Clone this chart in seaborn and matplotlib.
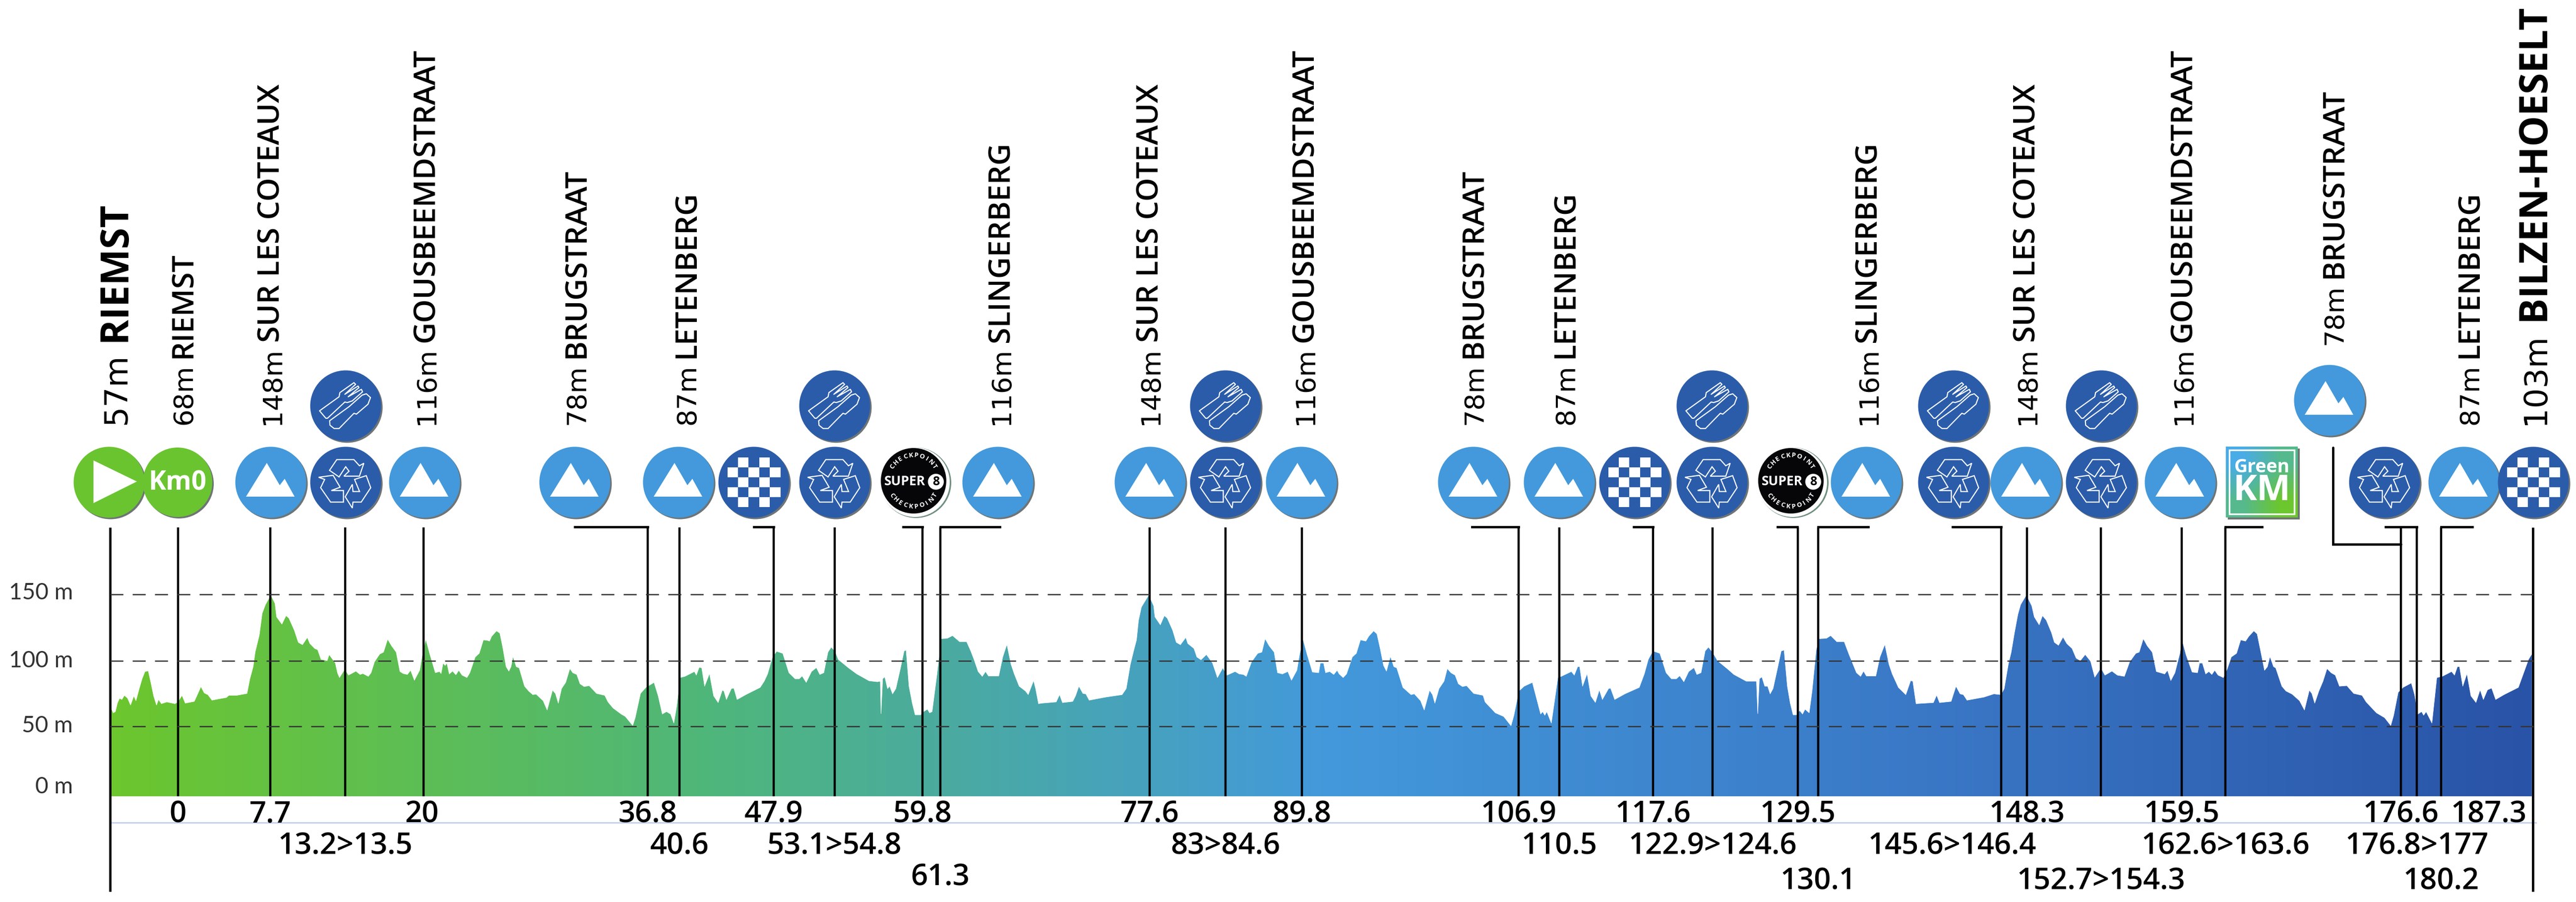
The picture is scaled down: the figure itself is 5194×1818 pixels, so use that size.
import numpy as np
import pandas as pd
import seaborn as sns
import matplotlib
matplotlib.use("Agg")
import matplotlib.pyplot as plt
from matplotlib.patches import Circle, Polygon, Rectangle

# elevation profile, (km, metres)
leg_1 = [(-5.31,65.6),(-5.15,62.0),(-4.98,62.9),(-4.82,69.2),(-4.65,72.8),(-4.46,71.9),(-4.26,75.0),(-4.00,72.8),(-3.77,67.8),(-3.51,74.6),(-3.34,71.0),(-3.08,80.0),(-2.85,87.3),(-2.62,92.7),(-2.36,93.2),(-2.13,83.6),(-1.93,74.6),(-1.70,67.8),(-1.54,71.9),(-1.31,68.8),(-0.88,70.1),(-0.23,68.8),(0,70.1),(0.33,75.0),(0.59,69.2),(1.31,70.5),(1.51,74.6),(1.84,81.5),(2.10,76.8),(2.39,75.5),(2.72,71.4),(3.21,72.3),(3.87,73.4),(4.06,75.0),(4.69,75.0),(5.51,76.4),(5.74,87.3),(6.00,96.3),(6.16,107.1),(6.49,119.8),(6.72,136.0),(6.98,142.4),(7.41,149.6),(7.74,143.3),(7.87,133.3),(8.29,127.9),(8.62,134.2),(8.85,132.4),(9.28,123.4),(9.60,114.4),(9.93,112.6),(10.32,118.0),(10.52,113.5),(10.91,109.8),(11.14,108.9),(11.41,101.7),(11.90,100.8),(12.06,105.3),(12.55,99.0),(12.72,91.8),(12.88,88.2),(13.31,94.5),(13.60,90.0),(14.19,93.0),(14.52,90.5),(14.75,91.2),(15.18,89.1),(15.40,91.8),(15.67,99.9),(16.09,105.7),(16.39,107.1),(16.72,116.7),(17.04,111.7),(17.40,107.1),(17.70,92.7),(17.96,91.2),(18.29,90.5),(18.55,93.6),(18.85,86.2),(19.27,93.6),(19.50,106.2),(19.76,116.7),(20.09,105.3),(20.52,91.8),(20.85,92.7),(20.98,91.2),(21.14,99.0),(21.30,97.2),(21.44,99.0),(21.63,90.9),(21.89,93.0),(22.16,90.3),(22.39,93.6),(22.65,90.0),(23.04,88.2),(23.27,91.8),(23.70,103.5),(24.02,106.2),(24.35,116.2),(24.68,115.8),(24.84,115.3),(25.01,118.9),(25.40,122.9),(25.66,121.2),(25.89,110.8),(26.16,96.3),(26.38,93.0),(26.55,96.3),(26.71,103.9),(26.97,96.3),(27.20,95.4),(27.63,81.8),(27.96,78.2),(28.29,75.5),(28.55,75.9),(29.11,71.0),(29.43,64.1),(29.86,78.8),(30.09,76.4),(30.32,69.2),(30.58,80.0),(30.91,84.6),(31.24,94.9),(31.47,91.8),(31.79,90.5),(32.05,83.6),(32.38,81.5),(32.78,82.2),(33.37,76.4),(34.02,75.0),(34.28,70.1),(34.68,65.6),(35.33,61.1),(35.66,59.3),(36.25,52.6),(36.45,58.4),(36.87,76.4),(37.30,80.9),(37.95,84.6),(38.28,74.6),(38.61,61.1),(38.94,62.9),(39.27,61.1),(39.53,54.4),(39.76,67.4),(40.02,88.2),(40.41,89.1),(41.17,92.7)]
leg_2 = [(41.32,90.0),(41.55,95.9),(41.75,95.4),(41.98,81.8),(42.37,91.2),(42.70,74.6),(43.06,69.6),(43.39,78.8),(43.52,78.2),(43.72,71.9),(44.11,80.0),(44.31,80.4),(44.57,71.9),(45.26,75.5),(46.41,80.9),(46.73,85.5),(47.00,90.9),(47.39,103.5),(47.72,107.7),(48.21,106.2),(48.70,91.8),(49.19,87.3),(49.52,87.3),(49.75,89.4),(50.08,84.6),(50.50,92.7),(50.89,95.6),(51.16,90.5),(51.48,91.8),(51.81,107.1),(52.07,110.8),(52.37,108.0),(52.63,101.7),(53.45,95.4),(54.11,90.9),(55.09,85.8),(55.75,85.1),(55.98,85.5),(56.04,61.4),(56.17,87.3),(56.34,88.7),(56.56,80.0),(56.73,81.8),(56.96,76.1),(57.22,80.0),(57.55,93.6),(57.88,108.0),(58.04,108.6),(58.27,81.8),(58.53,69.2),(58.76,60.5),(59.19,60.5),(59.42,62.9),(59.74,64.7),(59.91,62.0),(60.11,62.9),(60.50,90.9),(60.83,117.1),(61.32,117.4),(61.74,119.4),(62.30,114.9),(62.86,114.9),(63.19,108.0),(63.45,101.7),(63.78,92.7),(64.11,89.1),(64.37,92.7),(64.60,89.4),(65.42,89.4),(65.74,103.5),(66.07,112.9),(66.40,98.1),(66.66,90.9),(67.05,81.8),(67.55,78.2),(67.77,75.5),(68.20,86.0),(68.36,80.0),(68.59,68.8),(68.86,69.2),(70.00,70.1),(70.27,75.5),(70.50,69.6),(71.32,70.5),(71.54,74.6),(71.81,81.8),(72.13,76.4),(72.36,76.1),(72.63,71.4),(73.94,73.7),(75.25,75.5),(75.58,80.0),(75.91,98.1),(76.17,108.0),(76.40,116.2),(76.56,130.6),(76.79,140.6),(77.38,149.6),(77.77,141.5),(77.87,133.3),(78.30,127.4),(78.62,134.2),(78.85,132.4),(79.28,123.4),(79.57,114.4),(79.90,112.6),(80.33,118.0),(80.49,113.5),(80.98,109.8),(81.21,103.5),(81.54,101.4),(81.97,105.3),(82.46,99.0),(82.85,88.2),(83.28,95.4),(83.61,90.0),(84.26,92.7),(84.59,90.9),(84.92,90.5),(85.15,89.1),(85.57,99.9),(86.06,106.2),(86.39,107.1),(86.65,117.1),(86.98,111.7),(87.37,107.1),(87.64,91.8),(88.03,90.9),(88.46,92.7),(88.75,86.2),(89.18,93.6),(89.41,106.2),(89.67,116.7),(90.00,105.3),(90.42,92.3),(90.92,91.8),(91.05,99.0),(91.31,99.0),(91.47,91.8),(91.80,92.7),(92.12,90.5),(92.39,93.6),(92.55,90.9)]
leg_3 = [(92.87,88.2),(93.14,90.9),(93.60,103.5),(93.92,106.2),(94.25,116.2),(94.68,115.3),(94.91,118.9),(95.30,122.9),(95.56,120.7),(95.82,109.8),(96.09,97.2),(96.32,93.0),(96.64,103.9),(96.91,96.3),(97.14,95.4),(97.63,80.9),(98.28,75.5),(98.54,76.1),(99.04,71.0),(99.33,64.1),(99.76,78.8),(99.99,75.5),(100.18,69.2),(100.51,80.0),(100.91,85.5),(101.17,94.9),(101.46,91.8),(101.79,90.0),(102.05,83.6),(102.38,81.5),(102.71,82.2),(103.27,76.4),(104.02,75.0),(104.18,70.1),(105.00,62.0),(105.66,59.3),(106.25,52.4),(106.48,60.2),(106.87,78.2),(107.30,81.8),(107.95,84.6),(108.28,72.8),(108.61,61.1),(108.77,62.9),(108.94,60.2),(109.10,62.9),(109.46,54.4),(109.69,69.2),(109.98,88.2),(110.25,89.1),(111.06,92.7),(111.29,90.0),(111.56,96.3),(111.72,96.3),(111.95,81.8),(112.31,91.2),(112.61,74.6),(112.97,69.7),(113.29,79.1),(113.53,71.9),(114.02,80.0),(114.18,80.4),(114.51,71.9),(115.32,76.1),(116.47,80.9),(116.87,90.9),(117.19,101.7),(117.55,108.0),(118.11,106.2),(118.61,91.8),(119.03,87.3),(119.43,87.3),(119.69,89.6),(120.02,85.1),(120.41,92.7),(120.83,95.6),(121.06,90.5),(121.39,91.8),(121.72,108.0),(121.98,110.8),(122.31,107.1),(122.70,100.8),(123.52,94.5),(124.01,90.5),(125.00,85.5),(125.81,85.5),(125.91,61.4),(126.04,87.3),(126.24,88.7),(126.47,81.8),(126.70,81.8),(126.90,76.1),(127.13,80.0),(127.45,93.6),(127.78,108.0),(128.01,108.6),(128.27,81.8),(128.50,69.2),(128.73,60.5),(128.99,60.5),(129.25,63.8),(129.48,61.1),(129.68,64.7),(130.01,62.0),(130.24,78.2),(130.57,108.9),(130.80,117.1),(131.39,117.4),(131.72,119.4),(132.21,114.9),(132.80,114.9),(133.19,105.3),(133.78,91.8),(134.11,89.1),(134.34,93.0),(134.57,89.4),(135.32,89.4),(135.65,103.5),(136.04,112.9),(136.37,98.1),(136.63,90.9),(137.12,80.9),(137.71,75.5),(138.10,86.0),(138.27,85.5),(138.53,68.8),(139.91,69.6),(140.17,75.2),(140.40,69.6),(141.32,70.5),(141.71,81.8),(142.04,76.1),(142.30,75.5),(142.59,71.4),(143.94,73.7)]
leg_4 = [(144.73,76.1),(145.29,75.5),(145.55,80.0),(145.88,98.1),(146.11,107.1),(146.37,121.6),(146.64,135.1),(146.86,142.4),(147.32,149.6),(147.75,141.5),(147.95,133.3),(148.34,127.4),(148.60,134.2),(148.90,131.0),(149.32,121.6),(149.55,114.4),(149.88,112.2),(150.24,118.3),(150.54,113.5),(150.96,109.8),(151.29,102.6),(151.62,100.8),(152.01,105.3),(152.44,100.3),(152.77,88.5),(153.26,95.4),(153.58,90.0),(154.14,93.0),(154.57,90.0),(155.13,89.1),(155.55,99.9),(156.04,106.2),(156.31,107.1),(156.64,117.1),(156.96,111.7),(157.35,107.1),(157.68,92.7),(158.34,90.9),(158.57,93.6),(158.83,86.0),(159.16,91.8),(159.55,106.2),(159.71,116.7),(160.04,105.3),(160.53,92.3),(160.96,91.8),(161.12,99.0),(161.35,99.0),(161.61,90.9),(161.87,92.7),(162.10,90.5),(162.33,93.6),(162.60,90.0),(163.02,88.2),(163.32,94.5),(163.65,103.5),(164.07,106.2),(164.40,116.2),(164.79,115.3),(165.05,118.9),(165.45,122.9),(165.71,120.7),(165.97,108.9),(166.30,93.6),(166.53,96.3),(166.73,103.9),(167.02,96.3),(167.19,95.4),(167.68,81.8),(168.01,78.2),(168.50,75.9),(169.09,71.0),(169.48,64.1),(169.87,78.8),(170.07,76.4),(170.30,69.2),(170.63,78.2),(170.96,85.5),(171.28,94.9),(171.61,91.8),(171.94,90.0),(172.27,81.8),(172.86,82.2),(173.41,76.4),(174.07,75.0),(174.40,70.1),(175.22,62.0),(175.87,58.4),(176.36,52.6),(176.59,60.2),(176.95,77.3),(177.34,80.9),(178.00,84.2),(178.26,75.5),(178.52,61.1),(178.82,62.9),(178.98,60.2),(179.18,62.9),(179.64,54.4),(180.03,88.2),(180.46,89.1),(181.21,92.7),(181.44,90.0),(181.67,96.3),(181.84,96.3),(182.10,81.8),(182.43,91.2),(182.75,74.6),(183.15,69.7),(183.48,79.1),(183.74,71.9),(184.07,79.1),(184.40,80.4),(184.72,71.9),(185.38,75.5),(186.53,80.9),(186.92,90.9),(187.34,101.7),(187.60,105.7)]

# km labels under the profile, where their lines stand, and which row they sit in
tick_text = ["0","7.7","13.2>13.5","20","36.8","40.6","47.9","53.1>54.8","59.8","61.3","77.6","83>84.6","89.8",
             "106.9","110.5","117.6","122.9>124.6","129.5","130.1","145.6>146.4","148.3","152.7>154.3","159.5",
             "162.6>163.6","176.6","176.8>177","180.2"]
tick_km = [0,7.37,13.33,19.6,37.46,39.98,47.49,52.34,59.35,60.76,77.44,83.5,89.57,
           106.87,110.08,117.55,122.31,129.09,130.73,145.32,147.35,153.26,159.71,
           163.18,177.18,178.43,180.39]
tick_row = [1,1,2,1,1,2,1,2,1,3,1,2,1,1,2,1,2,1,4,2,1,4,1,2,1,2,4]
# labels that do not sit right under their line
label_km = {"145.6>146.4": 141.4, "20": 19.45}
finish_km = 187.7
start_km = -5.40
row_m = {1:-19.5, 2:-43.0, 3:-66.3, 4:-69.3}

grid_m = [52, 100.6, 150]
y_labels = ["150 m","100 m","50 m","0 m"]
y_label_px = [1208,1345,1476,1599]

# climbs and points along the top: label baseline x, bottom y, elevation, name, big?
stage_x = [253,386,564,875,1179,1401,2034,2335,2647,2988,3173,3783,4103,4418,4723,4996,5130]
stage_y = [856,856,856,856,856,856,856,856,856,856,856,856,856,856,695,856,856]
stage_elev = ["57m","68m","148m","116m","78m","87m","116m","148m","116m","78m","87m","116m","148m","116m","78m","87m","103m"]
stage_name = ["RIEMST","RIEMST","SUR LES COTEAUX","GOUSBEEMDSTRAAT","BRUGSTRAAT","LETENBERG","SLINGERBERG",
              "SUR LES COTEAUX","GOUSBEEMDSTRAAT","BRUGSTRAAT","LETENBERG","SLINGERBERG","SUR LES COTEAUX",
              "GOUSBEEMDSTRAAT","BRUGSTRAAT","LETENBERG","BILZEN-HOESELT"]
stage_gap = [168,134,166,166,134,134,166,166,166,134,134,166,166,166,134,134,210]
stage_big = [True]+[False]*15+[True]

mountain_x = [546,856,1159,1368,2012,2319,2624,2971,3144,3763,4085,4396,4968]
recycle_x = [697,1683,2471,3452,3939,4237,4808]
feed_x = [697,1683,2471,3452,3939,4237]
checker_x = [1520,3296,5108]
super8_x = [1842,3611]

# elbows between the icons and the lines: (x from, x to) in pixels at the top
elbows = [(1159,1306),(1520,1560),(1821,1860),(1896,2016),(2968,3062),(3294,3333),(3584,3624),(3666,3767),
          (3937,4035),(4487,4561),(4810,4873),(4922,4985)]

GREEN = "#6ac430"
SKY = "#4399db"
NAVY = "#2b5caa"
SHADOW = "#6f7475"
ROW_Y = 972
W, H = 5194, 1818

sns.set_theme(style="white")
plt.rcParams["font.family"] = ["Open Sans", "DejaVu Sans"]

fig = plt.figure(figsize=(W/100, H/100), dpi=100)
ax = fig.add_axes([222/W, 1-1797/H, (5115-222)/W, (1797-1063)/H])
ax.set_axis_off()

profile = pd.DataFrame(leg_1+leg_2+leg_3+leg_4, columns=["km","m"])
sns.lineplot(data=profile, x="km", y="m", ax=ax, estimator=None, sort=False, lw=0.6, color="#ffffff", zorder=3)

# fill under the line, gradient clipped to the shape
cmap = sns.blend_palette(["#6cc62e", "#4fb67c", SKY, "#3a78c6", "#2953a6"], n_colors=256, as_cmap=True)
poly = ax.fill_between(profile.km, profile.m, 0, color="none")
im = ax.imshow(np.linspace(0, 1, 512)[None, :], extent=[-5.31, 187.6, 0, 200], cmap=cmap, aspect="auto", zorder=2)
im.set_clip_path(poly.get_paths()[0], transform=ax.transData)
ax.set_xlim(-5.40, 188.0)
ax.set_ylim(-70.8, 199.8)

ax.vlines(tick_km, 0, 199.8, color="black", lw=3.2, zorder=4)
ax.vlines([start_km, finish_km], -70.8, 199.8, color="black", lw=3.4, zorder=4, clip_on=False)
for g in grid_m:
    ax.axhline(g, color="#333333", lw=1.8, dashes=(10.5, 7.5), zorder=5)
ax.axhline(row_m[1], color="#c5d3ea", lw=2.2, zorder=1)

for txt, km, row in zip(tick_text, tick_km, tick_row):
    ax.text(label_km.get(txt, km), row_m[row], txt, ha="center", va="baseline", fontsize=43, fontweight="semibold",
            color="black", zorder=6)
ax.text(187.2, row_m[1], "187.3", ha="right", va="baseline", fontsize=43, fontweight="semibold", color="black", zorder=6)

# everything above the profile is placed in picture pixels
ov = fig.add_axes([0, 0, 1, 1])
ov.set_xlim(0, W)
ov.set_ylim(H, 0)
ov.set_axis_off()
ov.patch.set_alpha(0)

for x0, x1 in elbows:
    ov.plot([x0, x1], [1062, 1062], color="black", lw=3.4, solid_capstyle="projecting")
ov.plot([4704, 4704, 4841], [902, 1097, 1097], color="black", lw=3.4, solid_joinstyle="miter")

for t, yp in zip(y_labels, y_label_px):
    ov.text(147, yp, t, ha="right", va="baseline", fontsize=33, color="#333333", family="Lato")

for x, y, elev, name, gap, big in zip(stage_x, stage_y, stage_elev, stage_name, stage_gap, stage_big):
    s1, s2 = (46, 56) if big else (39, 43.5)
    ov.text(x, y, elev, rotation=90, rotation_mode="anchor", ha="left", va="baseline", fontsize=s1,
            color="black", family="DejaVu Sans")
    ov.text(x, y-gap, name, rotation=90, rotation_mode="anchor", ha="left", va="baseline", fontsize=s2,
            color="black", fontweight="bold" if big else "semibold")


def disc(x, y, col, r=71.5):
    ov.add_patch(Circle((x+3, y+3), r, color=SHADOW, lw=0, zorder=2))
    ov.add_patch(Circle((x, y), r, color=col, lw=0, zorder=3))


def shifted(x, y, pts):
    return [(x+a, y+b) for a, b in pts]


def mountain(x, y):
    disc(x, y, SKY)
    ov.add_patch(Polygon(shifted(x, y, [(-50,29),(-8,-39),(18,6),(28,-7),(48,29)]), color="white", lw=0, zorder=4))


def recycle(x, y):
    disc(x, y, NAVY)
    arrows = [
        [(-17.9,-45.7),(16.5,-45.7),(27.7,-33.3),(36.6,-38.3),(27.7,-12.3),(-3.6,-12.3),(6.7,-22.3),(0,-31.3),(-13.4,-10.7),(-32.6,-24)],
        [(-54.5,-10),(-25.4,-14),(-11.2,10),(-29,16.7),(-4.5,16.7),(-4.5,40),(-30.4,40),(-50.5,11),(-42.4,-5.7)],
        [(17.9,-5.7),(41.5,-13.3),(50.5,11),(31.3,40),(14.7,40),(13.4,52),(-0.9,29.3),(13.4,4.3),(14.7,18.7),(28,18.7)],
    ]
    for a in arrows:
        ov.add_patch(Polygon(shifted(x, y, a), fill=False, ec="white", lw=1.6, zorder=4))


def feed(x, y):
    disc(x, y, NAVY)
    fork = [(-52.7,10),(-13.3,-18.3),(-11.7,-26.7),(16.7,-46.7),(20,-43.3),(-1.7,-23.3),(25,-40),(26.7,-36.7),(5,-18.3),
            (31.7,-33.3),(34,-28.3),(13.3,-10),(3.3,-6.7),(-1.7,-7.7),(-36.7,25),(-40,25)]
    knife = [(-32.3,30),(6.7,1.7),(33.3,-21.7),(41.7,-24.3),(50,-16.7),(45,-3.3),(21.7,16.7),(16.7,15),(-13.3,45.7),(-23.3,45.7),(-31.7,39)]
    for p in (fork, knife):
        ov.add_patch(Polygon(shifted(x, y, p), fill=False, ec="white", lw=1.6, joinstyle="round", zorder=4))


def checker(x, y):
    disc(x, y, NAVY)
    cw, ch = 21.4, 20
    for i in range(5):
        for j in range(5):
            if (i+j) % 2:
                ov.add_patch(Rectangle((x-2.5*cw+i*cw, y-2.5*ch+j*ch), cw, ch, color="white", lw=0, zorder=4))


def super8(x, y):
    ov.add_patch(Circle((x+5, y+4), 71, color="#6f8f80", lw=0, zorder=2))
    ov.add_patch(Circle((x+3, y+3), 70, color="white", lw=0, zorder=2))
    ov.add_patch(Circle((x, y), 66, color="#060608", lw=0, zorder=3))
    ov.text(x-18, y+1, "SUPER", ha="center", va="center", color="white", fontsize=19, fontweight="bold", zorder=4)
    ov.add_patch(Circle((x+45, y+2), 16, color="white", lw=0, zorder=4))
    ov.text(x+45, y+2, "8", ha="center", va="center", color="black", fontsize=18, fontweight="bold", zorder=5)
    word = "CHECKPOINT"
    for a, c in zip(np.linspace(146, 34, len(word)), word):
        r = np.radians(a)
        ov.text(x+51*np.cos(r), y-51*np.sin(r), c, ha="center", va="center", rotation=a-90, color="white",
                fontsize=9.5, fontweight="bold", zorder=4)
    for a, c in zip(np.linspace(214, 326, len(word)), word):
        r = np.radians(a)
        ov.text(x+52*np.cos(r), y-52*np.sin(r), c, ha="center", va="center", rotation=a+90, color="white",
                fontsize=9.5, fontweight="bold", zorder=4)


# start and km0
disc(220, ROW_Y, GREEN)
ov.add_patch(Polygon(shifted(220, ROW_Y, [(-31.5,-44),(56,-1.5),(-31.5,42)]), color="white", lw=0, zorder=4))
disc(358, ROW_Y, GREEN, r=70)
ov.text(358, ROW_Y+2, "Km0", ha="center", va="center", color="white", fontsize=38, fontweight="bold", zorder=4)

for x in mountain_x:
    mountain(x, ROW_Y)
mountain(4697, 807)
for x in recycle_x:
    recycle(x, ROW_Y)
for x in feed_x:
    feed(x, 818)
for x in checker_x:
    checker(x, ROW_Y)
for x in super8_x:
    super8(x, 969)

# green km box
ov.add_patch(Rectangle((4492, 904), 145, 143, color=SHADOW, lw=0, zorder=2))
box = ov.imshow(np.array([[0.0, 0.5], [0.5, 1.0]]), extent=[4488, 4633, 1043, 900], aspect="auto", interpolation="bilinear",
                cmap=sns.blend_palette(["#49ace6", "#55b98e", "#6cc62e"], as_cmap=True), zorder=3)
ov.set_xlim(0, W)
ov.set_ylim(H, 0)
ov.add_patch(Rectangle((4495, 907), 131, 129, fill=False, ec="white", lw=2.4, zorder=4))
ov.text(4561, 942, "Green", ha="center", va="center", color="white", fontsize=27, fontweight="bold", zorder=5)
ov.text(4561, 989, "KM", ha="center", va="center", color="white", fontsize=52, fontweight="bold", zorder=5)

fig.savefig("out.png", dpi=100)
